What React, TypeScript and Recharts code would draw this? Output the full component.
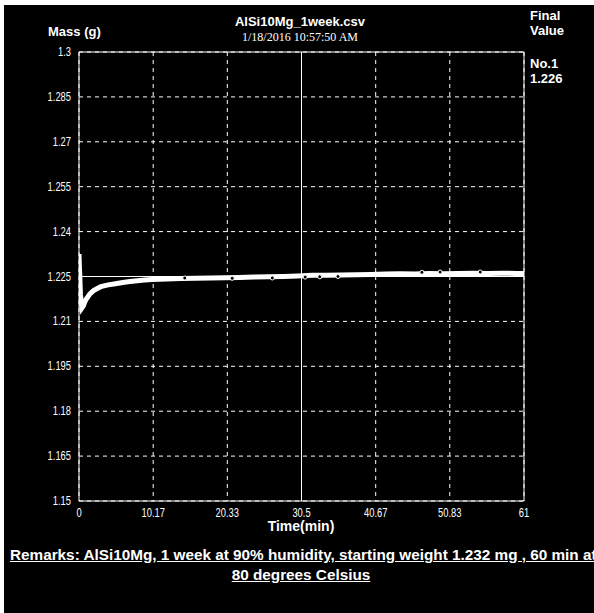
import React from 'react';
import { LineChart, Line, XAxis, YAxis, CartesianGrid, ReferenceLine, Scatter } from 'recharts';

// readings
const timeMin = [0, 0.02, 0.05, 0.1, 0.15, 0.2, 0.3, 0.4, 0.6, 0.8, 1.0, 1.5, 2, 2.5, 3, 4, 5, 6, 7, 8, 9, 10, 12, 14, 16, 18, 20, 22, 24, 26, 28, 30, 32, 34, 36, 38, 40, 42, 44, 46, 48, 50, 52, 54, 56, 58, 60, 61];
const massG = [1.2325, 1.231, 1.228, 1.226, 1.222, 1.219, 1.2165, 1.2145, 1.2152, 1.2165, 1.2175, 1.2192, 1.2203, 1.221, 1.2216, 1.2222, 1.2226, 1.223, 1.2233, 1.2236, 1.2238, 1.224, 1.2242, 1.2243, 1.2244, 1.2245, 1.2246, 1.2247, 1.2248, 1.2249, 1.225, 1.2252, 1.2254, 1.2254, 1.2255, 1.2256, 1.2257, 1.2258, 1.2259, 1.2258, 1.226, 1.2259, 1.226, 1.2261, 1.226, 1.2261, 1.226, 1.226];

// stray readings just off the band
const strayTime = [14.5, 21, 26.5, 31, 33, 35.5, 47, 49.5, 55];
const strayMass = [1.2245, 1.2244, 1.2245, 1.2248, 1.2249, 1.225, 1.2264, 1.2265, 1.2265];

const xTicks = [0, 10.17, 20.33, 30.5, 40.67, 50.83, 61];
const yTicks = [1.15, 1.165, 1.18, 1.195, 1.21, 1.225, 1.24, 1.255, 1.27, 1.285, 1.3];
const yTickLabels = ['1.15', '1.165', '1.18', '1.195', '1.21', '1.225', '1.24', '1.255', '1.27', '1.285', '1.3'];

const data = timeMin.map((t, i) => ({ t, mass: massG[i] }));
const stray = strayTime.map((t, i) => ({ t, stray: strayMass[i] }));

const bold = '"Liberation Sans", Arial, sans-serif';

// narrow tick text, squeezed horizontally like the instrument font
const NarrowTick = ({ x, y, payload, anchor, dy, fmt }: any) => (
    <g transform={`translate(${x},${y}) scale(0.78,1)`}>
        <text x={0} y={0} dy={dy} textAnchor={anchor} fill="#fff" fontSize={12} fontFamily='"Liberation Sans", sans-serif'>
            {fmt ? fmt(payload.value) : payload.value}
        </text>
    </g>
);

const label = (left: number, top: number, text: string, extra: React.CSSProperties = {}) => (
    <div style={{ position: 'absolute', left, top, color: '#fff', fontFamily: bold, fontWeight: 'bold', fontSize: 13, whiteSpace: 'nowrap', ...extra }}>
        {text}
    </div>
);

export default function App() {
    return (
        <div style={{ position: 'fixed', left: 0, top: 0, width: 594, height: 613, background: '#fff', overflow: 'hidden' }}>
            <div style={{ position: 'absolute', left: 4, top: 5, width: 590, height: 608, background: '#000' }} />
            <div style={{ position: 'absolute', left: 0, top: 0 }}>
                <LineChart width={594} height={613} margin={{ top: 52, right: 70, left: 39, bottom: 92 }}>
                    <CartesianGrid stroke="#fff" strokeDasharray="4 4" strokeWidth={1} horizontalValues={yTicks} verticalValues={xTicks} />
                    <XAxis
                        dataKey="t"
                        type="number"
                        domain={[0, 61]}
                        ticks={xTicks}
                        height={20}
                        tickLine={false}
                        axisLine={{ stroke: '#fff' }}
                        tick={<NarrowTick anchor="middle" dy={8} />}
                        allowDataOverflow
                    />
                    <YAxis
                        type="number"
                        domain={[1.15, 1.3]}
                        ticks={yTicks}
                        width={40}
                        tickLine={false}
                        axisLine={{ stroke: '#fff' }}
                        tick={<NarrowTick anchor="end" dy={4} fmt={(v: number) => yTickLabels[yTicks.indexOf(v)] ?? String(v)} />}
                        allowDataOverflow
                    />
                    <ReferenceLine y={1.3} stroke="#fff" />
                    <ReferenceLine x={61} stroke="#fff" />
                    <ReferenceLine y={1.225} stroke="#fff" />
                    <ReferenceLine x={30.5} stroke="#fff" />
                    <Line
                        data={data}
                        dataKey="mass"
                        type="linear"
                        stroke="#fff"
                        strokeWidth={5}
                        dot={false}
                        isAnimationActive={false}
                    />
                    <Scatter
                        data={stray}
                        dataKey="stray"
                        fill="#000"
                        stroke="#fff"
                        shape={(p: any) => <circle cx={p.cx} cy={p.cy} r={2} fill="#000" stroke="#fff" strokeWidth={1} />}
                        isAnimationActive={false}
                    />
                </LineChart>
            </div>
            {label(0, 14, 'AlSi10Mg_1week.csv', { width: 600, textAlign: 'center', fontSize: 13 })}
            {label(0, 30, '1/18/2016 10:57:50 AM', { width: 600, textAlign: 'center', fontFamily: '"Liberation Serif", serif', fontWeight: 'normal', fontSize: 12 })}
            {label(48, 24, 'Mass (g)')}
            {label(530, 8, 'Final')}
            {label(530, 23, 'Value')}
            {label(530, 56, 'No.1')}
            {label(530, 71, '1.226')}
            {label(0, 518, 'Time(min)', { width: 602, textAlign: 'center', fontSize: 14 })}
            {label(10, 546, 'Remarks: AlSi10Mg, 1 week at 90% humidity, starting weight 1.232 mg , 60 min at', { textDecoration: 'underline', fontSize: 15.3 })}
            {label(0, 566, '80 degrees Celsius', { width: 602, textAlign: 'center', textDecoration: 'underline', fontSize: 15.3 })}
        </div>
    );
}
